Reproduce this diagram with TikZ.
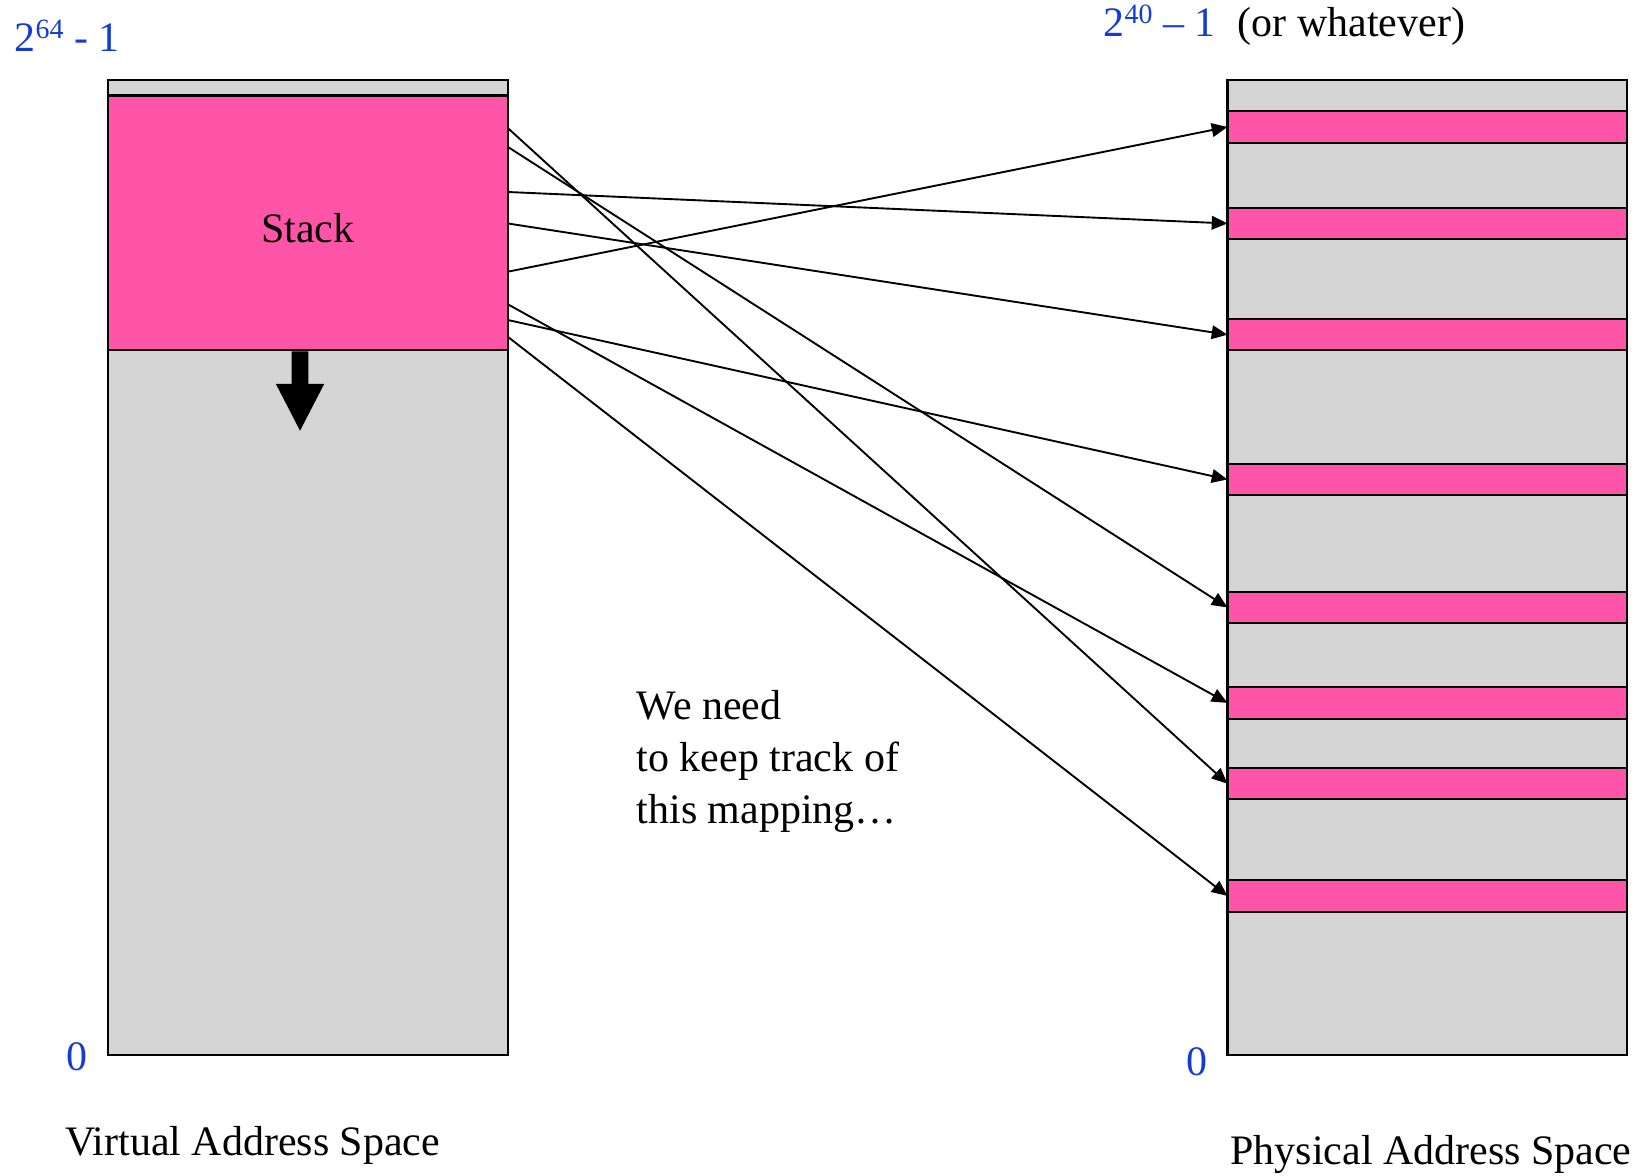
\documentclass[tikz,border=0pt]{standalone}
\usepackage{fontspec}
\setmainfont{Liberation Serif}
\usetikzlibrary{arrows.meta}
\definecolor{memgray}{RGB}{212,212,212}
\definecolor{mempink}{RGB}{255,85,168}
\definecolor{addrblue}{RGB}{20,60,210}
\newcommand{\supnum}[1]{\raisebox{6pt}{\fontsize{13.3}{14}\selectfont #1}}
\begin{document}
\begin{tikzpicture}[x=0.5pt,y=-0.5pt,
  region/.style={draw=black, line width=1pt, inner sep=0pt, outer sep=0pt,
    rectangle, anchor=north west, minimum width=190.5pt},
  graybox/.style={region, fill=memgray, minimum height=465pt},
  band/.style={region, fill=mempink, minimum height=15pt},
  lbl/.style={inner sep=0pt, outer sep=0pt, font=\fontsize{20}{24.7}\selectfont},
  addr/.style={lbl, text=addrblue},
  mapto/.style={-{Triangle[length=7.5pt,width=6.5pt]}, line width=0.9pt}]
\useasboundingbox (0,0) rectangle (1568,1120);
% virtual address space
\node[graybox] (vbox) at (103,76) {};
\node[region, fill=mempink, minimum height=121.5pt, text height=18.5pt, text depth=0pt,
  font=\fontsize{20}{24.7}\selectfont] (vstack) at (103,91) {Stack};
\fill (278,335) -- (294,335) -- (294,366) -- (309,366) -- (286,410.5) -- (263,366) -- (278,366) -- cycle;
% physical address space
\node[graybox] (pbox) at (1170,76) {};
\node[band] (b1) at (1170,106) {};
\node[band] (b2) at (1170,198) {};
\node[band] (b3) at (1170,304) {};
\node[band] (b4) at (1170,442) {};
\node[band] (b5) at (1170,564) {};
\node[band] (b6) at (1170,655) {};
\node[band] (b7) at (1170,732) {};
\node[band] (b8) at (1170,839) {};
% labels
\node[addr, anchor=base west] (vtop) at (14,49) {2\supnum{64} - 1};
\node[addr, anchor=base west] (ptop) at (1052,34.5) {2\supnum{40} – 1};
\node[lbl, anchor=base west] (whatever) at (1180,34.5) {(or whatever)};
\node[addr, anchor=base] (vzero) at (73,1020) {0};
\node[addr, anchor=base] (pzero) at (1141,1025) {0};
\node[lbl, anchor=base west] (vname) at (62,1101) {Virtual Address Space};
\node[lbl, anchor=base west] (pname) at (1173,1110) {Physical Address Space};
\node[lbl, anchor=base west, align=left] (note) at (607,785) {We need\\to keep track of\\this mapping…};
% mappings
\coordinate (s1) at (484,122);
\coordinate (s2) at (484,140);
\coordinate (s3) at (484,183);
\coordinate (s4) at (484,213);
\coordinate (s5) at (484,259);
\coordinate (s6) at (484,290);
\coordinate (s7) at (484,305);
\coordinate (s8) at (484,321);
\draw[mapto] (s1) -- (b7.west);
\draw[mapto] (s2) -- (b5.west);
\draw[mapto] (s3) -- (b2.west);
\draw[mapto] (s4) -- (b3.west);
\draw[mapto] (s5) -- (b1.west);
\draw[mapto] (s6) -- (b6.west);
\draw[mapto] (s7) -- (b4.west);
\draw[mapto] (s8) -- (b8.west);
\end{tikzpicture}
\end{document}
